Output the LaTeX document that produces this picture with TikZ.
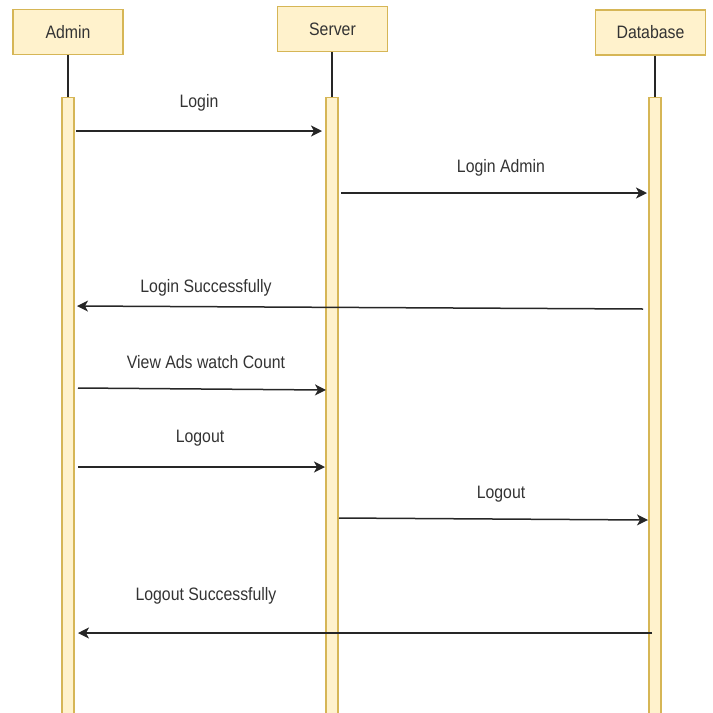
\documentclass[tikz,border=0pt]{standalone}
\usepackage{fontspec}
\setmainfont[FakeStretch=0.88]{Liberation Sans}
\usetikzlibrary{arrows.meta}
\definecolor{boxfill}{HTML}{FFF2CC}
\definecolor{boxline}{HTML}{D6B656}
\begin{document}
\begin{tikzpicture}[x=1pt,y=-1pt,
        actor/.style={draw=boxline,fill=boxfill,line width=1.5pt,minimum width=110pt,minimum height=45pt,text=black!80,font=\fontsize{18}{21}\selectfont},
        bar/.style={draw=boxline,fill=boxfill,line width=1.2pt,minimum width=12pt,minimum height=620pt,anchor=north,inner sep=0pt},
        msg/.style={black!85,line width=1.5pt,-{Stealth[length=11pt,width=11pt,inset=3pt]}},
        lbl/.style={text=black!80,font=\fontsize{18}{21}\selectfont}]
    \useasboundingbox (0,0) rectangle (713,713);
    % actors and their bars
    \node[actor] (admin) at (68,32) {Admin};
    \node[actor] (server) at (332.5,29) {Server};
    \node[actor] (db) at (650.5,32.5) {Database};
    \node[bar] (adminbar) at (68,97) {};
    \node[bar] (serverbar) at (332,97) {};
    \node[bar] (dbbar) at (655,97) {};
    \draw[black!85,line width=1.1pt] (admin.south) -- (adminbar.north);
    \draw[black!85,line width=1.1pt] (serverbar.north |- server.south) -- (serverbar.north);
    \draw[black!85,line width=1.1pt] (dbbar.north |- db.south) -- (dbbar.north);
    % messages
    \foreach \i/\xa/\ya/\xb/\yb/\tx/\ty/\txt in {
            1/76/131/322/131/199/103/Login,
            2/341/193/647/193/501/168/Login Admin,
            3/643/309/77/306/206/288/Login Successfully,
            4/78/388/326/390/206/362/View Ads watch Count,
            5/78/467/325/467/200/438/Logout,
            6/339/518/648/520/501/494/Logout,
            7/652/633/78/633/206/596/Logout Successfully} {
        \coordinate (m\i s) at (\xa,\ya);
        \coordinate (m\i e) at (\xb,\yb);
        \draw[msg] (m\i s) -- (m\i e);
        \node[lbl] (l\i) at (\tx,\ty) {\txt};
    }
\end{tikzpicture}
\end{document}
